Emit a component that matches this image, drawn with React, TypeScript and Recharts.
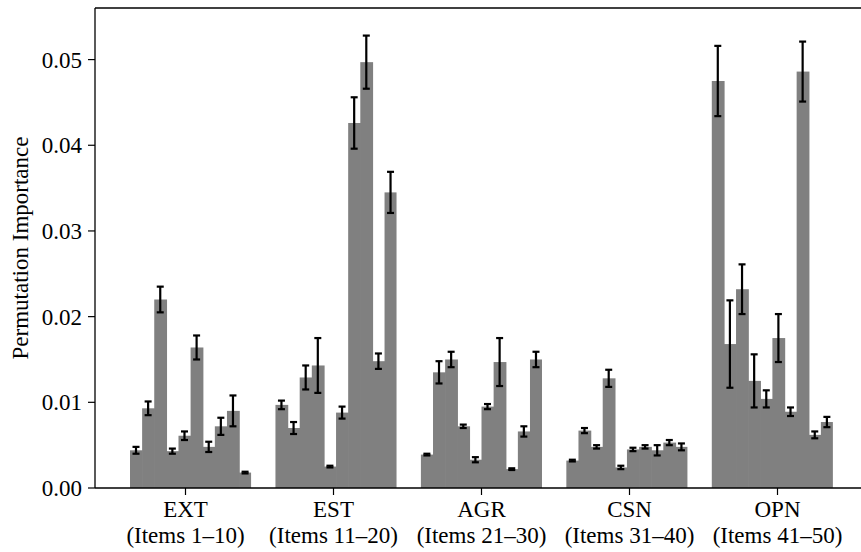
import React from 'react';
import { BarChart, Bar, XAxis, YAxis, ErrorBar, ReferenceLine } from 'recharts';

const groupNames = ['EXT', 'EST', 'AGR', 'CSN', 'OPN'];
const groupItems = ['(Items 1–10)', '(Items 11–20)', '(Items 21–30)', '(Items 31–40)', '(Items 41–50)'];

const extValues = [0.0044, 0.0093, 0.0220, 0.0043, 0.0061, 0.0164, 0.0048, 0.0072, 0.0090, 0.0018];
const extErrors = [0.0004, 0.0008, 0.0015, 0.0003, 0.0005, 0.0014, 0.0006, 0.0010, 0.0018, 0.0001];
const estValues = [0.0097, 0.0070, 0.0129, 0.0143, 0.0025, 0.0088, 0.0426, 0.0497, 0.0148, 0.0345];
const estErrors = [0.0005, 0.0007, 0.0014, 0.0032, 0.0001, 0.0007, 0.0030, 0.0031, 0.0009, 0.0024];
const agrValues = [0.0039, 0.0135, 0.0150, 0.0072, 0.0033, 0.0095, 0.0147, 0.0022, 0.0066, 0.0150];
const agrErrors = [0.0001, 0.0013, 0.0009, 0.0002, 0.0003, 0.0003, 0.0028, 0.0001, 0.0006, 0.0009];
const csnValues = [0.0032, 0.0067, 0.0048, 0.0128, 0.0024, 0.0045, 0.0048, 0.0044, 0.0053, 0.0048];
const csnErrors = [0.0001, 0.0003, 0.0002, 0.0010, 0.0002, 0.0002, 0.0002, 0.0006, 0.0003, 0.0004];
const opnValues = [0.0475, 0.0168, 0.0232, 0.0125, 0.0104, 0.0175, 0.0089, 0.0486, 0.0062, 0.0077];
const opnErrors = [0.0041, 0.0051, 0.0029, 0.0031, 0.0010, 0.0028, 0.0005, 0.0035, 0.0004, 0.0006];

const groupValues = [extValues, estValues, agrValues, csnValues, opnValues];
const groupErrors = [extErrors, estErrors, agrErrors, csnErrors, opnErrors];

const yTicks = [0, 0.01, 0.02, 0.03, 0.04, 0.05];
const yMax = 0.05602;
const groupCenters = [4.5, 16.5, 28.5, 40.5, 52.5];

const data: { pos: number; value: number | null; err: number | null }[] = [];
groupValues.forEach((vals, g) => {
  vals.forEach((v, j) => {
    data.push({ pos: g * 12 + j, value: v, err: groupErrors[g][j] });
  });
  if (g < groupValues.length - 1) {
    data.push({ pos: g * 12 + 10, value: null, err: null });
    data.push({ pos: g * 12 + 11, value: null, err: null });
  }
});

const FONT = '"Liberation Serif", "Times New Roman", serif';
const FS = 23;

const GroupTick = (props: any) => {
  const { x, y, payload } = props;
  const idx = groupCenters.indexOf(payload.value);
  if (idx < 0) return null;
  return (
    <g>
      <text x={x} y={y} dy={20} textAnchor="middle" fill="#000" fontFamily={FONT} fontSize={FS}>
        {groupNames[idx]}
      </text>
      <text x={x} y={y} dy={46} textAnchor="middle" fill="#000" fontFamily={FONT} fontSize={FS}>
        {groupItems[idx]}
      </text>
    </g>
  );
};

const BarShape = (props: any) => {
  const { x, y, width, height, pos } = props;
  if (x == null || y == null || !width || !height) return null;
  const lastInGroup = pos % 12 === 9;
  return <rect x={x} y={y} width={lastInGroup ? width : width + 0.8} height={height} fill="#808080" />;
};

export default function App() {
  return (
    <div style={{ position: 'absolute', left: 0, top: 0, width: 861, height: 552, overflow: 'hidden', background: '#fff' }}>
      <BarChart
        width={872}
        height={552}
        data={data}
        margin={{ top: 8, right: 4, bottom: 0, left: 0 }}
        barCategoryGap={0}
        barGap={0}
      >
        <XAxis xAxisId="bars" dataKey="pos" type="category" hide height={0} padding={{ left: 35, right: 35 }} />
        <XAxis
          xAxisId="labels"
          type="number"
          domain={[-0.5, 57.5]}
          ticks={groupCenters}
          interval={0}
          padding={{ left: 35, right: 35 }}
          allowDataOverflow
          height={64}
          tickSize={7}
          tickMargin={2}
          stroke="#000"
          axisLine={{ stroke: '#000', strokeWidth: 1.3 }}
          tickLine={{ stroke: '#000', strokeWidth: 1.2 }}
          tick={<GroupTick />}
        />
        <YAxis
          domain={[0, yMax]}
          ticks={yTicks}
          allowDataOverflow
          width={95}
          tickSize={7}
          tickMargin={6}
          tickFormatter={(v: number) => v.toFixed(2)}
          axisLine={{ stroke: '#000', strokeWidth: 1.3 }}
          tickLine={{ stroke: '#000', strokeWidth: 1.2 }}
          tick={{ fill: '#000', fontFamily: FONT, fontSize: FS }}
          label={{
            value: 'Permutation Importance',
            angle: -90,
            position: 'insideLeft',
            offset: 20,
            style: { textAnchor: 'middle', fill: '#000', fontFamily: FONT, fontSize: FS },
          }}
        />
        <ReferenceLine xAxisId="bars" y={yMax} stroke="#000" strokeWidth={1.3} ifOverflow="extendDomain" />
        <Bar xAxisId="bars" dataKey="value" fill="#808080" shape={<BarShape />} isAnimationActive={false}>
          <ErrorBar dataKey="err" width={3.5} strokeWidth={2.2} stroke="#000" direction="y" />
        </Bar>
      </BarChart>
    </div>
  );
}
